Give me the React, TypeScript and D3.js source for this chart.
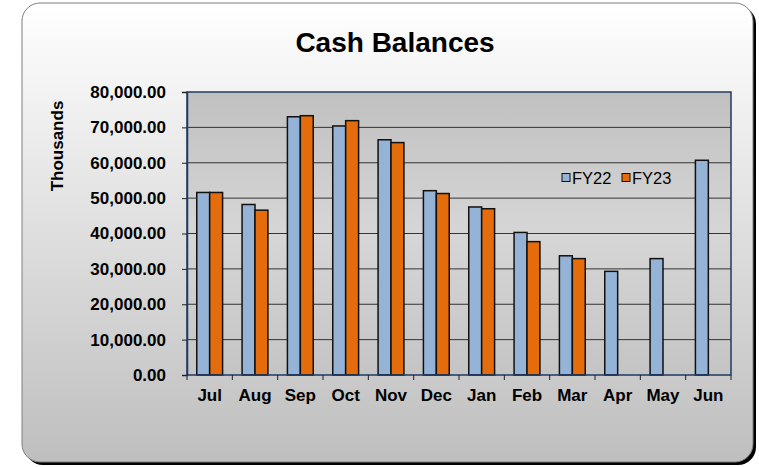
import React, { useEffect, useRef } from "react";
import * as d3 from "d3";

const months = ["Jul", "Aug", "Sep", "Oct", "Nov", "Dec", "Jan", "Feb", "Mar", "Apr", "May", "Jun"];
const seriesNames = ["FY22", "FY23"];
const fy22 = [51600, 48200, 73000, 70400, 66500, 52100, 47500, 40300, 33700, 29300, 32900, 60700];
const fy23 = [51600, 46600, 73300, 71900, 65700, 51300, 47000, 37700, 32900, null, null, null];
const yTicks = [0, 10000, 20000, 30000, 40000, 50000, 60000, 70000, 80000];
const colors = ["#95b3d7", "#e46c0a"];

const App = () => {
  const svgRef = useRef<SVGSVGElement>(null);

  useEffect(() => {
    const svg = d3.select(svgRef.current);
    svg.selectAll("*").remove();
    const width = 759;
    const height = 467;
    const plot = { left: 187, top: 92, right: 731, bottom: 375 };
    const font = "Arial, 'Liberation Sans', sans-serif";

    const defs = svg.append("defs");
    const bg = defs.append("linearGradient").attr("id", "bgGrad")
      .attr("x1", "0").attr("y1", "0").attr("x2", "0").attr("y2", "1");
    bg.append("stop").attr("offset", "0%").attr("stop-color", "#ffffff");
    bg.append("stop").attr("offset", "100%").attr("stop-color", "#bebebe");

    const pg = defs.append("linearGradient").attr("id", "plotGrad")
      .attr("x1", "0").attr("y1", "0").attr("x2", "0").attr("y2", "1");
    pg.append("stop").attr("offset", "0%").attr("stop-color", "#c0c0c0");
    pg.append("stop").attr("offset", "50%").attr("stop-color", "#d6d6d6");
    pg.append("stop").attr("offset", "100%").attr("stop-color", "#c4c4c4");

    // outer frame with shadow
    svg.append("rect").attr("x", 25).attr("y", 6).attr("width", 731).attr("height", 459)
      .attr("rx", 18).attr("fill", "#000");
    svg.append("rect").attr("x", 22).attr("y", 3).attr("width", 731).attr("height", 459)
      .attr("rx", 18).attr("fill", "url(#bgGrad)").attr("stroke", "#7f7f7f").attr("stroke-width", 1);

    svg.append("text").attr("x", 395).attr("y", 52).attr("text-anchor", "middle")
      .style("font-family", font).style("font-size", "28px").style("font-weight", "bold")
      .text("Cash Balances");

    const x = d3.scaleBand().domain(months).range([plot.left, plot.right]).paddingInner(0.43).paddingOuter(0.215);
    const xSeries = d3.scaleBand().domain(seriesNames).range([0, x.bandwidth()]).padding(0);
    const y = d3.scaleLinear().domain([0, 80000]).range([plot.bottom, plot.top]);

    svg.append("rect").attr("x", plot.left).attr("y", plot.top)
      .attr("width", plot.right - plot.left).attr("height", plot.bottom - plot.top)
      .attr("fill", "url(#plotGrad)");

    svg.append("g").selectAll("line").data(yTicks.slice(1, -1)).join("line")
      .attr("x1", plot.left).attr("x2", plot.right)
      .attr("y1", (d) => y(d)).attr("y2", (d) => y(d))
      .attr("stroke", "#333").attr("stroke-width", 1);

    const data = [fy22, fy23];
    data.forEach((vals, si) => {
      svg.append("g").selectAll("rect").data(months.map((m, i) => ({ m, v: vals[i] })).filter((d) => d.v != null))
        .join("rect")
        .attr("x", (d) => (x(d.m) as number) + (xSeries(seriesNames[si]) as number))
        .attr("y", (d) => y(d.v as number))
        .attr("width", xSeries.bandwidth())
        .attr("height", (d) => y(0) - y(d.v as number))
        .attr("fill", colors[si]).attr("stroke", "#111").attr("stroke-width", 1.5);
    });

    svg.append("rect").attr("x", plot.left).attr("y", plot.top)
      .attr("width", plot.right - plot.left).attr("height", plot.bottom - plot.top)
      .attr("fill", "none").attr("stroke", "#1f3a64").attr("stroke-width", 1.5);

    // y axis
    const yAxis = svg.append("g").attr("transform", `translate(${plot.left},0)`)
      .call(d3.axisLeft(y).tickValues(yTicks).tickSize(5).tickPadding(16)
        .tickFormat((d) => d3.format(",.2f")(d as number)));
    yAxis.select(".domain").attr("stroke", "#1f3a64").attr("stroke-width", 1.5);
    yAxis.selectAll(".tick line").attr("stroke", "#222");
    yAxis.selectAll("text").style("font-family", font).style("font-size", "17px")
      .style("font-weight", "bold").attr("fill", "#000");

    // x axis
    const xTicks = svg.append("g");
    const bounds = months.map((m) => (x(m) as number) - (x.step() - x.bandwidth()) / 2).concat([plot.right]);
    xTicks.selectAll("line").data(bounds).join("line")
      .attr("x1", (d) => d).attr("x2", (d) => d)
      .attr("y1", plot.bottom).attr("y2", plot.bottom + 5).attr("stroke", "#222");
    xTicks.selectAll("text").data(months).join("text")
      .attr("x", (d) => (x(d) as number) + x.bandwidth() / 2).attr("y", 401)
      .attr("text-anchor", "middle")
      .style("font-family", font).style("font-size", "17px").style("font-weight", "bold")
      .text((d) => d);

    svg.append("text").attr("transform", "translate(63,146) rotate(-90)").attr("text-anchor", "middle")
      .style("font-family", font).style("font-size", "17px").style("font-weight", "bold")
      .text("Thousands");

    // legend
    const legX = [562, 622];
    seriesNames.forEach((s, i) => {
      svg.append("rect").attr("x", legX[i]).attr("y", 173.5).attr("width", 8).attr("height", 8)
        .attr("fill", colors[i]).attr("stroke", "#111").attr("stroke-width", 1);
      svg.append("text").attr("x", legX[i] + 10).attr("y", 183.5)
        .style("font-family", font).style("font-size", "16.5px").text(s);
    });

    svg.attr("width", width).attr("height", height);
  }, []);

  return <svg ref={svgRef} style={{ position: "absolute", left: 0, top: 0 }} width={759} height={467}></svg>;
};

export default App;
